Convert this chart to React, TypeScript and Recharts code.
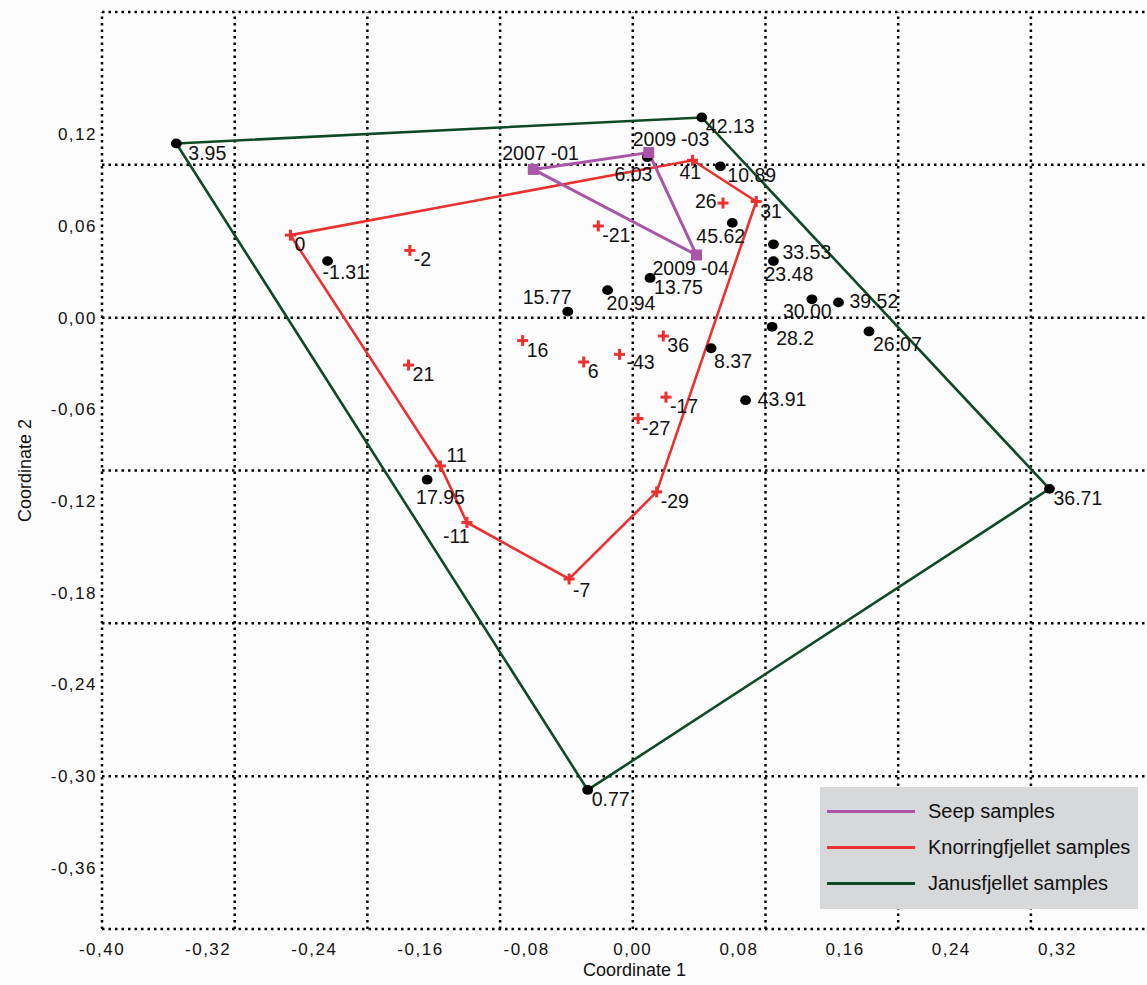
import { ScatterChart, Scatter, XAxis, YAxis, ReferenceLine, Legend } from 'recharts'

// Janusfjellet samples (black dots)
const janusLabels = ['3.95', '42.13', '6.03', '10.89', '45.62', '33.53', '23.48', '30.00', '39.52', '28.2', '26.07', '36.71', '0.77', '17.95', '8.37', '43.91', '15.77', '20.94', '13.75', '-1.31']
const janusX = [-0.344, 0.052, 0.011, 0.066, 0.075, 0.106, 0.106, 0.135, 0.155, 0.105, 0.178, 0.314, -0.034, -0.155, 0.059, 0.085, -0.049, -0.019, 0.013, -0.23]
const janusY = [0.114, 0.131, 0.105, 0.099, 0.062, 0.048, 0.037, 0.012, 0.01, -0.006, -0.009, -0.112, -0.309, -0.106, -0.02, -0.054, 0.004, 0.018, 0.026, 0.037]
const janusHull = ['3.95', '42.13', '36.71', '0.77', '3.95']

// Knorringfjellet samples (red crosses)
const knorrLabels = ['0', '-2', '-21', '41', '26', '31', '21', '16', '6', '-43', '36', '-17', '-27', '11', '-29', '-11', '-7']
const knorrX = [-0.258, -0.168, -0.026, 0.045, 0.068, 0.093, -0.169, -0.083, -0.037, -0.01, 0.023, 0.025, 0.004, -0.145, 0.018, -0.125, -0.048]
const knorrY = [0.054, 0.044, 0.06, 0.103, 0.075, 0.076, -0.031, -0.015, -0.029, -0.024, -0.012, -0.052, -0.066, -0.097, -0.114, -0.134, -0.171]
const knorrHull = ['0', '41', '31', '-29', '-7', '-11', '11', '0']

// Seep samples (purple squares)
const seepLabels = ['2007-01', '2009-03', '2009-04']
const seepX = [-0.075, 0.012, 0.048]
const seepY = [0.097, 0.108, 0.041]
const seepHull = ['2007-01', '2009-03', '2009-04', '2007-01']

const xTicks = [-0.4, -0.32, -0.24, -0.16, -0.08, 0, 0.08, 0.16, 0.24, 0.32]
const yTicks = [0.12, 0.06, 0, -0.06, -0.12, -0.18, -0.24, -0.3, -0.36]
const xGrid = [-0.4, -0.3, -0.2, -0.1, 0, 0.1, 0.2, 0.3]
const yGrid = [-0.4, -0.3, -0.2, -0.1, 0, 0.1, 0.2]

const FONT = "'Liberation Sans', Arial, sans-serif"
const GREEN = '#0f4a28'
const RED = '#eb3030'
const PURPLE = '#a956a9'

// where each label sits relative to its marker (text start, baseline)
const defaultOffset = [4, 16]
const labelOffset: Record<string, number[]> = {
  '3.95': [12, 17], '6.03': [-33, 24], '10.89': [7, 16], '45.62': [-36, 20], '33.53': [9, 15],
  '23.48': [-9, 20], '30.00': [-29, 19], '39.52': [11, 6], '28.2': [4, 18], '26.07': [4, 20],
  '17.95': [-11, 24], '8.37': [3, 20], '43.91': [12, 6], '15.77': [-45, -8], '20.94': [-1, 20],
  '-1.31': [-5, 18], '41': [-13, 19], '26': [-28, 5], '11': [6, -4], '-11': [-24, 21],
  '-7': [4, 18], '-43': [7, 15], '2007-01': [-31, -9], '2009-03': [-16, -7], '2009-04': [-44, 20],
}

const toPoints = (labels: string[], xs: number[], ys: number[]) =>
  labels.map((label, i) => ({ label, x: xs[i], y: ys[i] }))

const janus = toPoints(janusLabels, janusX, janusY)
const knorr = toPoints(knorrLabels, knorrX, knorrY)
const seep = toPoints(seepLabels, seepX, seepY)

const hullOf = (pts: { label: string; x: number; y: number }[], order: string[]) =>
  order.map((l) => pts.find((p) => p.label === l)!)

const fmt = (v: number) => v.toFixed(2).replace('.', ',')

function PointLabel({ cx, cy, label }: any) {
  const [dx, dy] = labelOffset[label] ?? defaultOffset
  // the dated seep labels are set with a wide gap before the hyphen
  const dated = /^\d{4}-/.test(label)
  return (
    <text x={cx + dx} y={cy + dy} fontSize={19.5} fontFamily={FONT} fill="#111">
      {dated ? (
        <>
          <tspan>{label.slice(0, 4)}</tspan>
          <tspan dx={5}>{label.slice(4)}</tspan>
        </>
      ) : (
        label
      )}
    </text>
  )
}

function DotShape({ cx, cy, payload }: any) {
  return (
    <g>
      <ellipse cx={cx} cy={cy} rx={5.4} ry={4.9} fill="#000" />
      <PointLabel cx={cx} cy={cy} label={payload.label} />
    </g>
  )
}

function CrossShape({ cx, cy, payload }: any) {
  return (
    <g>
      <line x1={cx - 5.5} y1={cy} x2={cx + 5.5} y2={cy} stroke={RED} strokeWidth={3} />
      <line x1={cx} y1={cy - 5.5} x2={cx} y2={cy + 5.5} stroke={RED} strokeWidth={3} />
      <PointLabel cx={cx} cy={cy} label={payload.label} />
    </g>
  )
}

function SquareShape({ cx, cy, payload }: any) {
  return (
    <g>
      <rect x={cx - 5.5} y={cy - 5.5} width={11} height={11} fill={PURPLE} />
      <PointLabel cx={cx} cy={cy} label={payload.label} />
    </g>
  )
}

const NoShape = () => <g />

function XTick({ x, y, payload }: any) {
  return (
    <text x={x} y={y} dy={12} textAnchor="middle" fontSize={17} fontFamily={FONT} letterSpacing={1.5} fill="#111">
      {fmt(payload.value)}
    </text>
  )
}

function YTick({ x, y, payload }: any) {
  return (
    <text x={x} y={y} dy={6} textAnchor="end" fontSize={17} fontFamily={FONT} letterSpacing={1.5} fill="#111">
      {fmt(payload.value)}
    </text>
  )
}

function LegendBox({ payload }: any) {
  const items = (payload || []).filter((e: any) => e.type !== 'none').reverse()
  return (
    <div style={{ background: '#d7d8da', width: '100%', height: '100%', boxSizing: 'border-box', padding: '6px 0 0 7px' }}>
      {items.map((entry: any) => (
        <div key={entry.value} style={{ display: 'flex', alignItems: 'center', height: 36 }}>
          <div style={{ width: 88, height: 3, background: entry.color }} />
          <span style={{ marginLeft: 13, fontFamily: FONT, fontSize: 20, color: '#111' }}>{entry.value}</span>
        </div>
      ))}
    </div>
  )
}

const gridStyle = { stroke: '#000', strokeWidth: 2.5, strokeDasharray: '2.5 4' }

export default function App() {
  return (
    <div style={{ position: 'absolute', left: 0, top: 0, width: 1147, height: 985, background: '#fcfcfc' }}>
      <ScatterChart width={1147} height={985} margin={{ top: 12, right: 0, bottom: 0, left: 0 }}>
        <XAxis
          type="number"
          dataKey="x"
          domain={[-0.4, 0.3875]}
          ticks={xTicks}
          allowDataOverflow
          axisLine={false}
          tickLine={false}
          tickSize={0}
          tickMargin={14}
          height={56}
          tick={<XTick />}
          label={{ value: 'Coordinate 1', position: 'insideBottom', offset: 9, dx: 10, fill: '#111', fontSize: 18, fontFamily: FONT }}
        />
        <YAxis
          type="number"
          dataKey="y"
          domain={[-0.4, 0.2]}
          ticks={yTicks}
          allowDataOverflow
          axisLine={false}
          tickLine={false}
          tickSize={0}
          tickMargin={5}
          width={102}
          tick={<YTick />}
          label={{
            content: ({ viewBox }: any) => {
              const cx = viewBox.x + 25
              const cy = viewBox.y + viewBox.height / 2
              return (
                <text x={cx} y={cy} transform={`rotate(-90 ${cx} ${cy})`} textAnchor="middle" dy={6} fontSize={18} fontFamily={FONT} fill="#111">
                  Coordinate 2
                </text>
              )
            },
          }}
        />

        {xGrid.map((v) => (
          <ReferenceLine key={`gx${v}`} x={v} {...gridStyle} />
        ))}
        {yGrid.map((v) => (
          <ReferenceLine key={`gy${v}`} y={v} {...gridStyle} />
        ))}

        <Scatter name="Janusfjellet samples" data={hullOf(janus, janusHull)} fill={GREEN} line={{ stroke: GREEN, strokeWidth: 2.6 }} shape={NoShape} legendType="line" isAnimationActive={false} />
        <Scatter name="Knorringfjellet samples" data={hullOf(knorr, knorrHull)} fill={RED} line={{ stroke: RED, strokeWidth: 2.6 }} shape={NoShape} legendType="line" isAnimationActive={false} />
        <Scatter name="Seep samples" data={hullOf(seep, seepHull)} fill={PURPLE} line={{ stroke: PURPLE, strokeWidth: 3 }} shape={NoShape} legendType="line" isAnimationActive={false} />

        <Scatter name="janus points" data={janus} shape={DotShape} legendType="none" isAnimationActive={false} />
        <Scatter name="knorr points" data={knorr} shape={CrossShape} legendType="none" isAnimationActive={false} />
        <Scatter name="seep points" data={seep} shape={SquareShape} legendType="none" isAnimationActive={false} />

        <Legend
          layout="vertical"
          align="center"
          verticalAlign="middle"
          wrapperStyle={{ left: 820, top: 787, width: 318, height: 122 }}
          content={<LegendBox />}
        />
      </ScatterChart>
    </div>
  )
}
